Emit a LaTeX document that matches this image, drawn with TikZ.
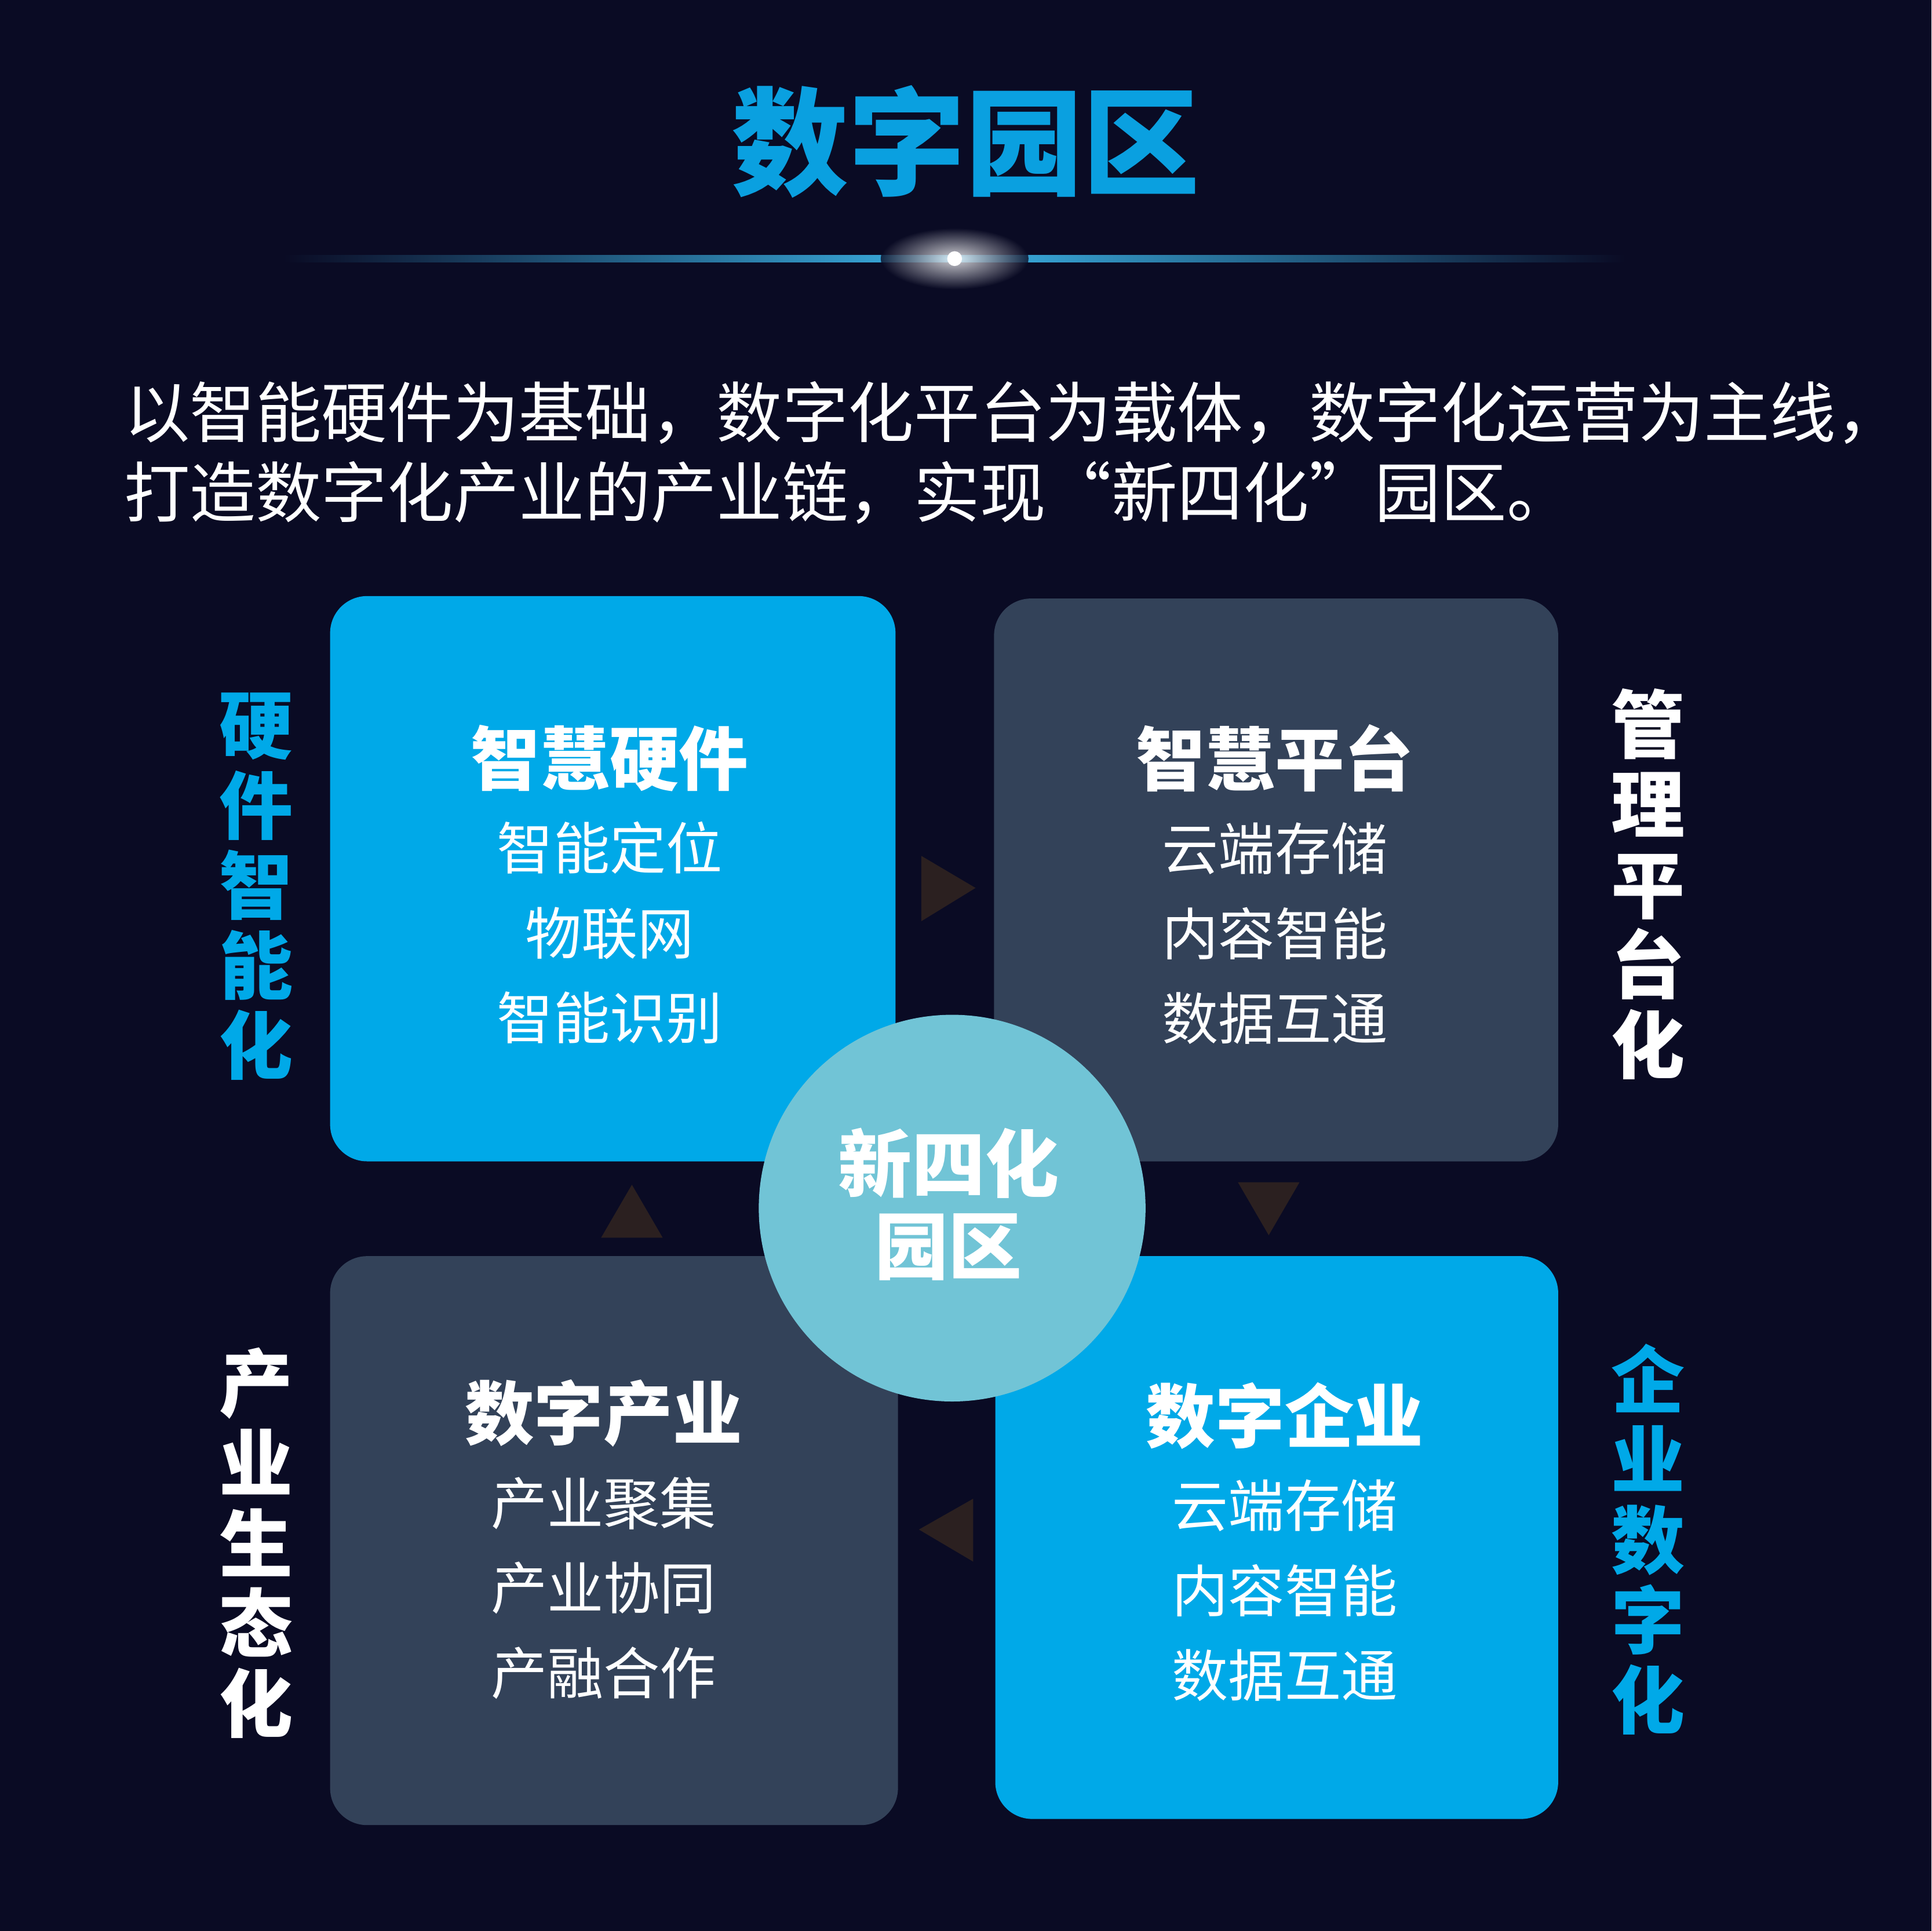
\documentclass[tikz,border=0pt]{standalone}
\usepackage{fontspec}
\setmainfont{Noto Sans CJK SC}
\usetikzlibrary{shapes.geometric}
\definecolor{bg}{HTML}{0A0B24}
\definecolor{bblue}{HTML}{00A9E8}
\definecolor{slate}{HTML}{334259}
\definecolor{circ}{HTML}{71C4D6}
\definecolor{tri}{HTML}{2B2020}
\definecolor{ttl}{HTML}{0AA0E0}
\begin{document}
\begin{tikzpicture}[x=0.01cm,y=-0.01cm,
  box/.style={rounded corners=0.3cm},
  boxtxt/.style={align=center,text=white,font=\fontsize{13}{19.6}\selectfont},
  side/.style={align=center,font=\bfseries\fontsize{17}{18.5}\selectfont},
  trimark/.style={fill=tri}]
\fill[bg] (0,0) rectangle (1568,1568);
\useasboundingbox (0,0) rectangle (1568,1568);
% title
\node[text=ttl,font=\bfseries\fontsize{27}{30}\selectfont] (title) at (784,115) {数字园区};
% glow
\shade[left color=bg,right color=ttl!80!white] (230,207) rectangle (775,213);
\shade[right color=bg,left color=ttl!80!white] (775,207) rectangle (1320,213);
\shade[inner color=white,outer color=bg,opacity=0.8] (775,210) ellipse (60 and 25);
\fill[white] (775,210) circle (6);
% paragraph
\node[anchor=west,text=white,font=\fontsize{15.2}{18}\selectfont,inner sep=0] (p1) at (100,335) {以智能硬件为基础，数字化平台为载体，数字化运营为主线，};
\node[anchor=west,text=white,font=\fontsize{15.2}{18}\selectfont,inner sep=0] (p2) at (100,400) {打造数字化产业的产业链，实现“新四化”园区。};
% boxes
\fill[bblue,box] (268,484) rectangle (727,943);
\fill[slate,box] (807,486) rectangle (1265,943);
\fill[slate,box] (268,1020) rectangle (729,1482);
\fill[bblue,box] (808,1020) rectangle (1265,1477);
% triangles
\fill[trimark] (748,695) -- (792,721) -- (748,748) -- cycle;
\fill[trimark] (1005,960) -- (1055,960) -- (1030,1003) -- cycle;
\fill[trimark] (790,1217) -- (746,1242) -- (790,1268) -- cycle;
\fill[trimark] (488,1005) -- (538,1005) -- (513,962) -- cycle;
% circle
\fill[circ] (773,981) circle (157);
\node[align=center,text=white,font=\bfseries\fontsize{17}{19}\selectfont] (c) at (770,978) {新四化\\园区};
% box texts
\node[boxtxt] (tl) at (495,718) {{\bfseries\fontsize{16}{19.6}\selectfont 智慧硬件}\\智能定位\\物联网\\智能识别};
\node[boxtxt] (tr) at (1035,718) {{\bfseries\fontsize{16}{19.6}\selectfont 智慧平台}\\云端存储\\内容智能\\数据互通};
\node[boxtxt] (bl) at (490,1250) {{\bfseries\fontsize{16}{19.6}\selectfont 数字产业}\\产业聚集\\产业协同\\产融合作};
\node[boxtxt] (br) at (1043,1252) {{\bfseries\fontsize{16}{19.6}\selectfont 数字企业}\\云端存储\\内容智能\\数据互通};
% side labels
\node[side,text=bblue] (s1) at (208,720) {硬\\件\\智\\能\\化};
\node[side,text=white] (s2) at (1338,718) {管\\理\\平\\台\\化};
\node[side,text=white] (s3) at (208,1253) {产\\业\\生\\态\\化};
\node[side,text=bblue] (s4) at (1338,1250) {企\\业\\数\\字\\化};
\end{tikzpicture}
\end{document}
